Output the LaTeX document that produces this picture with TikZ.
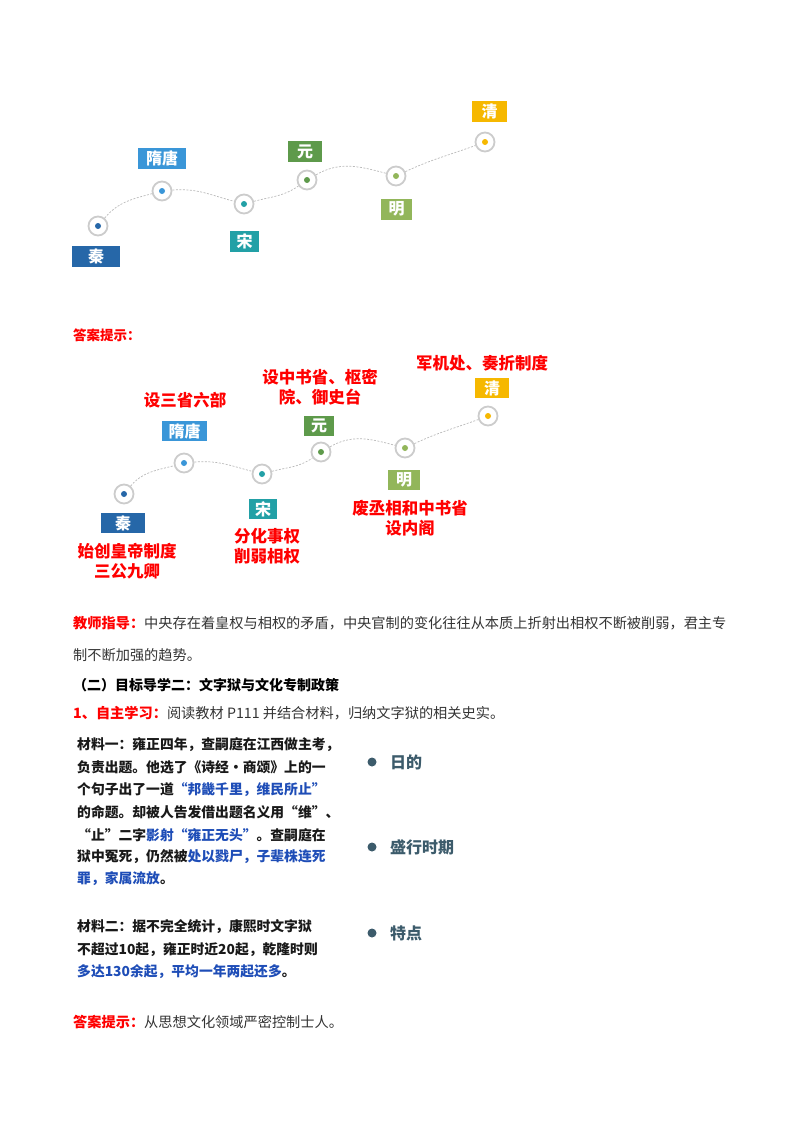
\documentclass[tikz,border=0pt]{standalone}
\usepackage{fontspec}
\setmainfont{Noto Sans CJK SC}
\definecolor{cqin}{HTML}{2667A8}
\definecolor{csui}{HTML}{3A96D8}
\definecolor{csong}{HTML}{22A0A6}
\definecolor{cyuan}{HTML}{5E9A4B}
\definecolor{cming}{HTML}{92B65A}
\definecolor{cqing}{HTML}{F6B800}
\definecolor{ansred}{HTML}{FF0000}
\definecolor{matblue}{HTML}{1E4DB7}
\definecolor{slate}{HTML}{3C5B6B}
\definecolor{bodytxt}{HTML}{333333}
\begin{document}
\begin{tikzpicture}[x=1pt,y=-1pt,
  ring/.style={circle,draw=gray!40,line width=1.8pt,fill=white,minimum size=19pt,inner sep=0pt,
    path picture={\fill[#1] (path picture bounding box.center) circle (3pt);}},
  conn/.style={draw=gray!55,line width=0.7pt,dash pattern=on 2pt off 1.5pt},
  era/.style={fill=#1,text=white,font=\fontsize{16}{16}\selectfont\bfseries,inner sep=0pt,minimum height=21pt},
  hint/.style={text=ansred,font=\fontsize{16.5}{20}\selectfont\bfseries,align=center,inner sep=0pt},
  body/.style={anchor=west,inner sep=0pt,text=bodytxt,font=\fontsize{14.2}{14.2}\selectfont},
  mat/.style={anchor=west,inner sep=0pt,text=black!90,font=\fontsize{13.8}{13.8}\selectfont\bfseries},
  bul/.style={circle,fill=slate,inner sep=0pt,minimum size=9pt},
  bultxt/.style={anchor=west,inner sep=0pt,text=slate,font=\fontsize{16}{16}\selectfont\bfseries}
]
\useasboundingbox (0,0) rectangle (800,1132);

% ---------- top timeline ----------
\node[ring=cqin]  (q1) at (98,226) {};
\node[ring=csui]  (q2) at (162,191) {};
\node[ring=csong] (q3) at (244,204) {};
\node[ring=cyuan] (q4) at (307,180) {};
\node[ring=cming] (q5) at (396,176) {};
\node[ring=cqing] (q6) at (485,142) {};
\draw[conn] (q1) to[out=50,in=195] (q2);
\draw[conn] (q2) to[out=5,in=165] (q3);
\draw[conn] (q3) to[out=15,in=215] (q4);
\draw[conn] (q4) to[out=30,in=165] (q5);
\draw[conn] (q5) to[out=25,in=200] (q6);
\node[era=cqin,minimum width=48pt]  (tq1) at (96,256.5) {秦};
\node[era=csui,minimum width=48pt]  (tq2) at (162,158) {隋唐};
\node[era=csong,minimum width=29pt] (tq3) at (244.5,241) {宋};
\node[era=cyuan,minimum width=34pt] (tq4) at (305,151.5) {元};
\node[era=cming,minimum width=31pt] (tq5) at (396.5,209) {明};
\node[era=cqing,minimum width=35pt] (tq6) at (489.5,111.5) {清};

% ---------- answer ----------
\node[anchor=west,inner sep=0pt,text=ansred,font=\fontsize{13.5}{13.5}\selectfont\bfseries] (ans1) at (73,335) {答案提示：};

\node[ring=cqin]  (a1) at (124,494) {};
\node[ring=csui]  (a2) at (184,463) {};
\node[ring=csong] (a3) at (262,474) {};
\node[ring=cyuan] (a4) at (321,452) {};
\node[ring=cming] (a5) at (405,448) {};
\node[ring=cqing] (a6) at (488,416) {};
\draw[conn] (a1) to[out=50,in=195] (a2);
\draw[conn] (a2) to[out=5,in=165] (a3);
\draw[conn] (a3) to[out=15,in=215] (a4);
\draw[conn] (a4) to[out=30,in=165] (a5);
\draw[conn] (a5) to[out=25,in=200] (a6);
\node[era=cqin,minimum width=44pt,minimum height=20pt]  (ta1) at (123,523) {秦};
\node[era=csui,minimum width=45pt,minimum height=20pt]  (ta2) at (184.5,431) {隋唐};
\node[era=csong,minimum width=28pt,minimum height=20pt] (ta3) at (263,509) {宋};
\node[era=cyuan,minimum width=30pt,minimum height=20pt] (ta4) at (319,426) {元};
\node[era=cming,minimum width=32pt,minimum height=20pt] (ta5) at (404,480) {明};
\node[era=cqing,minimum width=34pt,minimum height=20pt] (ta6) at (492,388) {清};

\node[hint] (h6) at (482,363) {军机处、奏折制度};
\node[hint] (h4) at (320,387) {设中书省、枢密\\院、御史台};
\node[hint] (h2) at (185,400) {设三省六部};
\node[hint] (h1) at (127,561.5) {始创皇帝制度\\三公九卿};
\node[hint] (h3) at (267,546.5) {分化事权\\削弱相权};
\node[hint] (h5) at (410,518) {废丞相和中书省\\设内阁};

% ---------- body text ----------
\node[body] (t1) at (73,623) {\textcolor{ansred}{\bfseries 教师指导：}中央存在着皇权与相权的矛盾，中央官制的变化往往从本质上折射出相权不断被削弱，君主专};
\node[body] (t2) at (73,655) {制不断加强的趋势。};
\node[body,text=black,font=\fontsize{14}{14}\selectfont\bfseries] (t3) at (73,685) {（二）目标导学二：文字狱与文化专制政策};
\node[body] (t4) at (73,713) {\textcolor{ansred}{\bfseries 1、自主学习：}阅读教材 P111 并结合材料，归纳文字狱的相关史实。};

% ---------- material one ----------
\node[mat] (m1) at (77,745) {材料一：雍正四年，查嗣庭在江西做主考，};
\node[mat] (m2) at (77,767) {负责出题。他选了《诗经·商颂》上的一};
\node[mat] (m3) at (77,790) {个句子出了一道\textcolor{matblue}{“邦畿千里，维民所止”}};
\node[mat] (m4) at (77,812) {的命题。却被人告发借出题名义用“维”、};
\node[mat] (m5) at (77,835) {“止”二字\textcolor{matblue}{影射“雍正无头”}。查嗣庭在};
\node[mat] (m6) at (77,857) {狱中冤死，仍然被\textcolor{matblue}{处以戮尸，子辈株连死}};
\node[mat] (m7) at (77,879) {\textcolor{matblue}{罪，家属流放}。};

% ---------- material two ----------
\node[mat] (n1) at (77,927) {材料二：据不完全统计，康熙时文字狱};
\node[mat] (n2) at (77,950) {不超过10起，雍正时近20起，乾隆时则};
\node[mat] (n3) at (77,972) {\textcolor{matblue}{多达130余起，平均一年两起还多}。};

% ---------- bullets ----------
\node[bul] (b1) at (372,762) {};
\node[bultxt] (bt1) at (390,762) {日的};
\node[bul] (b2) at (372,847) {};
\node[bultxt] (bt2) at (390,847) {盛行时期};
\node[bul] (b3) at (372,933) {};
\node[bultxt] (bt3) at (390,933) {特点};

% ---------- final answer ----------
\node[body] (fa) at (73,1022) {\textcolor{ansred}{\bfseries 答案提示：}从思想文化领域严密控制士人。};
\end{tikzpicture}
\end{document}
